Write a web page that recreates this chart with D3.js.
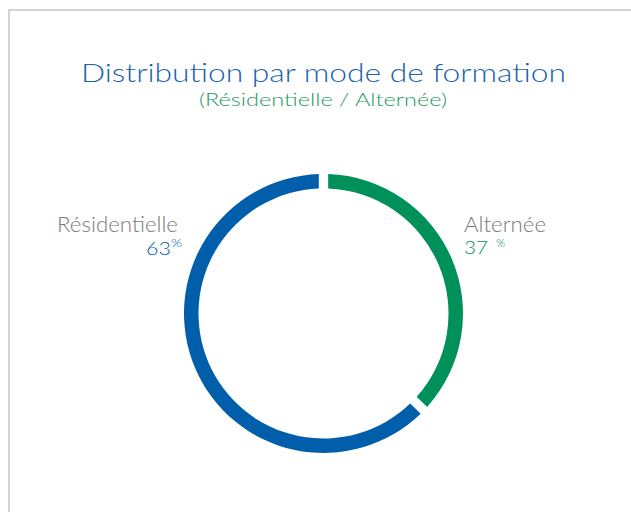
<!DOCTYPE html>
<html><head><meta charset="utf-8">
<script src="https://cdn.jsdelivr.net/npm/d3@7/dist/d3.min.js"></script>
<style>
html,body{margin:0;padding:0;background:#fff;}
svg{display:block;}
</style></head>
<body>
<svg id="chart" width="631" height="512"></svg>
<script>
const categories = ["Alternée", "Résidentielle"];
const values = [37, 63];
const colors = ["#00915a", "#005eaa"];
const title = "Distribution par mode de formation";
const subtitle = "(Résidentielle / Alternée)";

const svg = d3.select("#chart");
const font = "Lato, 'Open Sans', sans-serif";

svg.append("rect").attr("x", 9).attr("y", 10).attr("width", 640).attr("height", 520)
  .attr("fill", "none").attr("stroke", "#d4d4d4").attr("stroke-width", 2);

function txt(x, y, s, size, fill, width) {
  const t = svg.append("text").attr("x", x).attr("y", y)
    .attr("font-family", font).attr("font-weight", 300).attr("font-size", size)
    .attr("fill", fill).text(s);
  if (width) t.attr("textLength", width).attr("lengthAdjust", "spacingAndGlyphs");
  return t;
}

txt(81, 82, title, 26, "#1a62ad", 485);
txt(199, 106, subtitle, 18, "#1e9a5e", 248);

const cx = 323.5, cy = 313.5, R = 139.5, r = 125;
const pie = d3.pie().sort(null).value(d => d).padAngle(0.05);
const arcs = pie(values);
const arc = d3.arc().innerRadius(r).outerRadius(R);
const g = svg.append("g").attr("transform", `translate(${cx},${cy})`);
g.selectAll("path").data(arcs).join("path")
  .attr("d", arc).attr("fill", (d, i) => colors[i]);

// labels
txt(57, 232, categories[1], 21, "#7a7a7a", 121);
txt(146, 255, String(values[1]), 18.5, colors[1], 25);
txt(171, 247, "%", 11, colors[1], 11);

txt(464, 232, categories[0], 21, "#7a7a7a", 82);
txt(464, 254, String(values[0]), 18.5, colors[0], 24);
txt(496, 247, "%", 11, colors[0], 9);
</script>
</body></html>
